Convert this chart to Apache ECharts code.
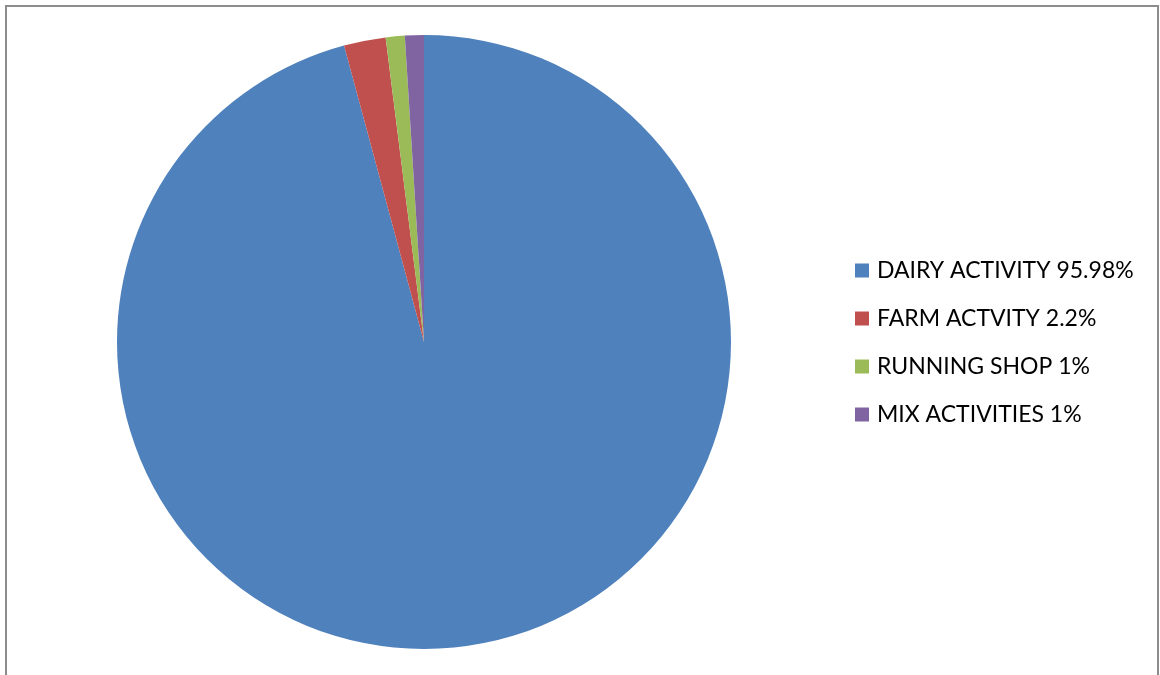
<!DOCTYPE html>
<html>
<head>
<meta charset="utf-8">
<script src="https://cdn.jsdelivr.net/npm/echarts@6/dist/echarts.min.js"></script>
<style>
  html, body { margin: 0; padding: 0; background: #fff; }
  #pieChart { width: 1160px; height: 675px; }
</style>
</head>
<body>
<div id="pieChart"></div>
<script>
// activity shares, clockwise from 12 o'clock
const categories = ['DAIRY ACTIVITY', 'FARM ACTVITY', 'RUNNING SHOP', 'MIX ACTIVITIES'];
const shares = [95.98, 2.2, 1, 1];
const baseColor = ['#4F81BD', '#C0504D', '#9BBB59', '#8064A2'];

const pieData = categories.map((name, i) => ({ name: name, value: shares[i] }));

let pieChart = echarts.init(document.getElementById('pieChart'));
pieChart.setOption({
  animation: false,
  color: baseColor,
  backgroundColor: '#fff',
  graphic: [{
    type: 'rect',
    shape: { x: 6, y: 6, width: 1152, height: 720 },
    style: { fill: 'none', stroke: '#8c8c8c', lineWidth: 2 },
    silent: true
  }],
  legend: {
    orient: 'vertical',
    left: 855,
    top: 259,
    padding: 0,
    itemWidth: 14,
    itemHeight: 14,
    itemGap: 25,
    icon: 'rect',
    textStyle: {
      color: '#000',
      fontFamily: 'Lato',
      fontSize: 23,
      lineHeight: 23,
      padding: [0, 0, 0, 3]
    },
    formatter: function (name) {
      const i = categories.indexOf(name);
      return name + ' ' + shares[i] + '%';
    },
    data: categories
  },
  series: [{
    type: 'pie',
    radius: 307,
    center: [424, 342],
    startAngle: 90,
    clockwise: true,
    label: { show: false },
    labelLine: { show: false },
    emphasis: { disabled: true },
    itemStyle: { borderWidth: 0 },
    data: pieData
  }]
});
</script>
</body>
</html>
